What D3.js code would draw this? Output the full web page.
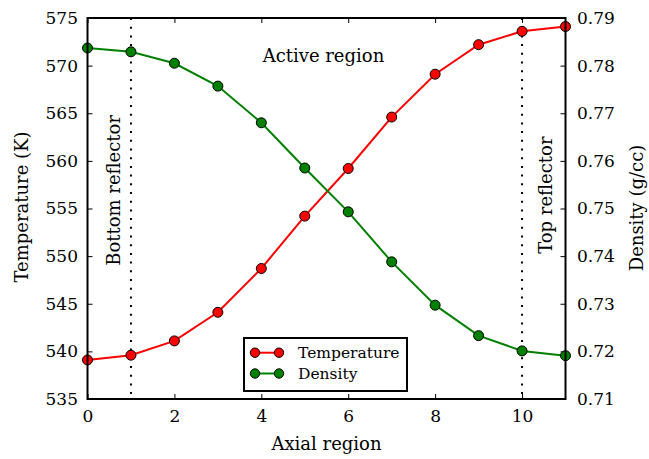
<!DOCTYPE html>
<html>
<head>
<meta charset="utf-8">
<script src="https://cdn.jsdelivr.net/npm/d3@7"></script>
<style>
    body { margin: 0; background: #fff; }
    svg, svg text { font-family: "DejaVu Serif", serif; fill: #000; }
</style>
</head>
<body>
<svg id="chart" width="649" height="459"></svg>
<script>
// Data
var region = [0, 1, 2, 3, 4, 5, 6, 7, 8, 9, 10, 11];
var temperature = [539.1, 539.6, 541.1, 544.1, 548.7, 554.2, 559.2, 564.6, 569.1, 572.2, 573.6, 574.1];
var density = [0.7837, 0.7829, 0.7805, 0.7757, 0.7680, 0.7585, 0.7493, 0.7388, 0.7297, 0.7233, 0.7201, 0.7191];
var xTicks = [0, 2, 4, 6, 8, 10];
var tempTicks = [535, 540, 545, 550, 555, 560, 565, 570, 575];
var densTicks = [0.71, 0.72, 0.73, 0.74, 0.75, 0.76, 0.77, 0.78, 0.79];
var reflectors = [1, 10];

var serif = '"DejaVu Serif", serif';
var margin = {left: 87.5, top: 18, right: 83.5, bottom: 60};
var width = 649 - margin.left - margin.right;
var height = 459 - margin.top - margin.bottom;

var svg = d3.select('#chart');
var g = svg.append('g')
    .attr('transform', 'translate(' + margin.left + ',' + margin.top + ')');

var x = d3.scaleLinear().domain([0, 11]).range([0, width]);
var yT = d3.scaleLinear().domain([535, 575]).range([height, 0]);
var yD = d3.scaleLinear().domain([0.71, 0.79]).range([height, 0]);

// axes, ticks pointing inward
function styleAxis(sel) {
    sel.attr('font-family', null);
    sel.select('.domain').remove();
    sel.selectAll('.tick line').attr('stroke', '#000').attr('stroke-width', 1);
    sel.selectAll('.tick text').attr('font-size', '17px').style('font-family', serif);
}

g.append('g')
    .attr('transform', 'translate(0,' + height + ')')
    .call(d3.axisBottom(x).tickValues(xTicks).tickSizeInner(-5).tickSizeOuter(0).tickPadding(10.5))
    .call(styleAxis);

g.append('g')
    .call(d3.axisTop(x).tickValues(xTicks).tickSizeInner(-5).tickSizeOuter(0).tickFormat(''))
    .call(styleAxis);

g.append('g')
    .call(d3.axisLeft(yT).tickValues(tempTicks).tickSizeInner(-5).tickSizeOuter(0).tickPadding(9.5))
    .call(styleAxis);

g.append('g')
    .attr('transform', 'translate(' + width + ',0)')
    .call(d3.axisRight(yD).tickValues(densTicks).tickSizeInner(-5).tickSizeOuter(0).tickPadding(11.5)
        .tickFormat(d3.format('.2f')))
    .call(styleAxis);

// reflector boundaries
g.selectAll('.refl')
    .data(reflectors)
    .enter()
    .append('line')
    .attr('x1', function(d) { return x(d); })
    .attr('x2', function(d) { return x(d); })
    .attr('y1', 0)
    .attr('y2', height)
    .attr('stroke', '#000')
    .attr('stroke-width', 2)
    .attr('stroke-dasharray', '2,6.7');

function label(sel) {
    return sel.attr('font-size', '18px').style('font-family', serif);
}

// region labels
g.append('text')
    .attr('transform', 'translate(' + (x(1) - 10.5) + ',' + yT(556.9) + ') rotate(-90)')
    .attr('text-anchor', 'middle')
    .call(label)
    .text('Bottom reflector');

g.append('text')
    .attr('transform', 'translate(' + (x(11) - 13.5) + ',' + yT(556.4) + ') rotate(-90)')
    .attr('text-anchor', 'middle')
    .call(label)
    .text('Top reflector');

g.append('text')
    .attr('x', x(5.43))
    .attr('y', yT(570.4))
    .attr('text-anchor', 'middle')
    .call(label)
    .text('Active region');

// series
var series = [
    {name: 'Temperature', values: temperature, y: yT, colour: '#ff0000'},
    {name: 'Density', values: density, y: yD, colour: '#008000'}
];

series.forEach(function(s) {
    var line = d3.line()
        .x(function(d, i) { return x(region[i]); })
        .y(function(d) { return s.y(d); });

    g.append('path')
        .datum(s.values)
        .attr('d', line)
        .attr('fill', 'none')
        .attr('stroke', s.colour)
        .attr('stroke-width', 2);

    g.selectAll('.pt-' + s.name)
        .data(s.values)
        .enter()
        .append('circle')
        .attr('cx', function(d, i) { return x(region[i]); })
        .attr('cy', function(d) { return s.y(d); })
        .attr('r', 5)
        .attr('fill', s.colour)
        .attr('stroke', '#000')
        .attr('stroke-width', 1);
});

// frame
g.append('rect')
    .attr('width', width)
    .attr('height', height)
    .attr('fill', 'none')
    .attr('stroke', '#000')
    .attr('stroke-width', 2);

// legend
var legend = svg.append('g').attr('transform', 'translate(244,338)');
legend.append('rect')
    .attr('width', 163)
    .attr('height', 53)
    .attr('fill', '#fff')
    .attr('stroke', '#000')
    .attr('stroke-width', 2);

series.forEach(function(s, i) {
    var row = legend.append('g').attr('transform', 'translate(0,' + (14.7 + i * 20.8) + ')');
    row.append('line')
        .attr('x1', 11).attr('x2', 35)
        .attr('stroke', s.colour).attr('stroke-width', 2);
    [11, 35].forEach(function(cx) {
        row.append('circle')
            .attr('cx', cx).attr('cy', 0).attr('r', 4.7)
            .attr('fill', s.colour).attr('stroke', '#000').attr('stroke-width', 1);
    });
    row.append('text')
        .attr('x', 54)
        .attr('y', 5.5)
        .attr('font-size', '15.5px')
        .style('font-family', serif)
        .text(s.name);
});

// axis titles
svg.append('text')
    .attr('x', margin.left + width / 2)
    .attr('y', 450)
    .attr('text-anchor', 'middle')
    .call(label)
    .text('Axial region');

svg.append('text')
    .attr('transform', 'translate(27.5,207) rotate(-90)')
    .attr('text-anchor', 'middle')
    .call(label)
    .text('Temperature (K)');

svg.append('text')
    .attr('transform', 'translate(643,208) rotate(-90)')
    .attr('text-anchor', 'middle')
    .call(label)
    .text('Density (g/cc)');
</script>
</body>
</html>
